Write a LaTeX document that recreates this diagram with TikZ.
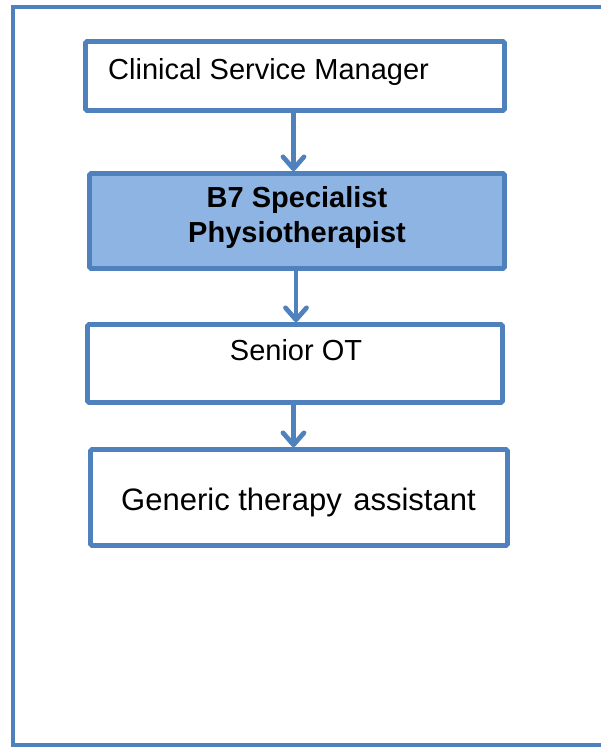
\documentclass[tikz,border=0pt]{standalone}
\usepackage{fontspec}
\setmainfont{Liberation Sans}
\usetikzlibrary{arrows.meta}
\definecolor{bord}{HTML}{4F81BD}
\definecolor{boxfill}{HTML}{8EB4E3}
\begin{document}
\begin{tikzpicture}[x=1pt,y=-1pt,
  frame/.style={draw=bord,line width=4.5pt},
  orgbox/.style={draw=bord,line width=4.7pt,rectangle,rounded corners=1.5pt,inner sep=0pt,fill=white},
  lbl/.style={inner sep=0pt,text=black,font=\fontsize{29}{35}\selectfont},
  arr/.style={draw=bord,line width=4.7pt,-{Straight Barb[length=12pt,width=21pt,line width=4.7pt,round]}}
]
\useasboundingbox (0,0) rectangle (600,747);
\draw[frame] (13,7) rectangle (640,745.5);
% boxes
\node[orgbox,minimum width=419pt,minimum height=69pt] (b1) at (295,76) {};
\node[orgbox,fill=boxfill,minimum width=415pt,minimum height=95pt] (b2) at (297,221) {};
\node[orgbox,minimum width=415pt,minimum height=78pt] (b3) at (295,363.5) {};
\node[orgbox,minimum width=417pt,minimum height=96pt] (b4) at (299,497.5) {};
% texts
\node[lbl,anchor=base west] (t1) at (108,79) {Clinical Service Manager};
\node[lbl,align=center,font=\fontsize{29}{35}\selectfont\bfseries] (t2) at (297,217) {B7 Specialist\\Physiotherapist};
\node[lbl,anchor=base] (t3) at (296,360) {Senior OT};
\node[lbl,anchor=base,font=\fontsize{31}{37}\selectfont] (t4) at (298.5,510) {Generic therapy\hspace{3pt} assistant};
% arrows
\draw[arr] ([xshift=-1.5pt]b1.south) -- ([xshift=-3.5pt]b2.north);
\draw[arr] ([xshift=-1pt]b2.south) -- ([xshift=1pt]b3.north);
\draw[arr] ([xshift=-1.5pt]b3.south) -- ([xshift=-5.5pt]b4.north);
\end{tikzpicture}
\end{document}
